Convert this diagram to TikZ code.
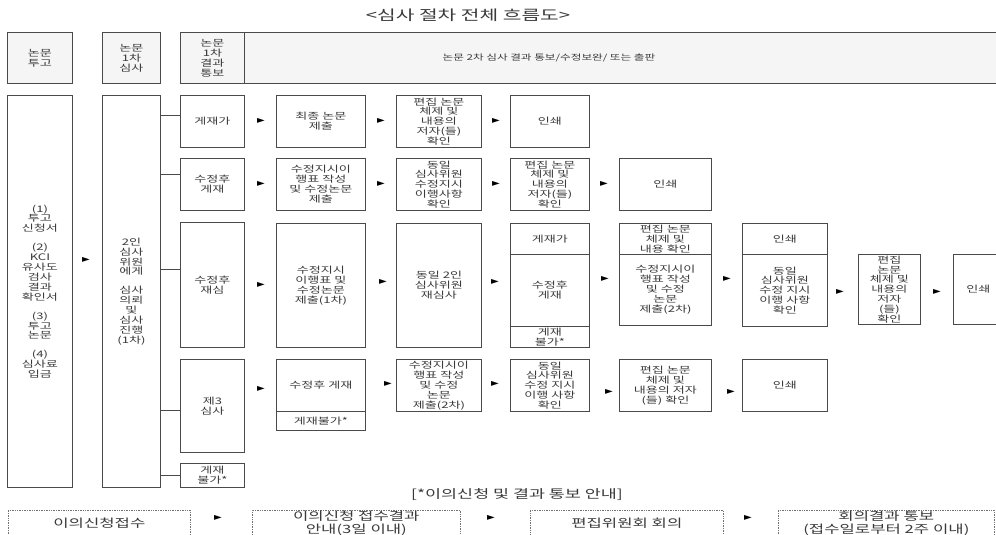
\documentclass[tikz,border=0pt]{standalone}
\usepackage{fontspec}
\setmainfont{Noto Sans CJK KR}[FakeStretch=1.45]
\newfontfamily\symf{DejaVu Sans}
\usetikzlibrary{calc}
\definecolor{txt}{HTML}{3A3A3A}
\definecolor{ln}{HTML}{4A4A4A}
\definecolor{hdr}{HTML}{F5F5F5}
\tikzset{
 bx/.style={draw=ln, line width=0.9pt, fill=white, inner sep=0pt, align=center, text=txt,
   font=\fontsize{9}{9.9}\selectfont, anchor=north west},
 hd/.style={bx, fill=hdr},
 dbx/.style={draw=black!55, densely dotted, line width=0.7pt, inner sep=0pt, align=center, text=txt,
   font=\fontsize{11.5}{12.5}\selectfont, anchor=north west},
 tri/.style={text=black, font=\symf\fontsize{10}{10}\selectfont, inner sep=0pt},
 link/.style={draw=ln, line width=0.8pt},
}
\newcommand\mkbox[7][bx]{\node[#1, minimum width={(#5-#3)*1pt}, minimum height={(#6-#4)*1pt}] (#2) at (#3,#4) {#7};}
\begin{document}
\begin{tikzpicture}[x=1pt,y=-1pt]
\clip (0,0) rectangle (996,535);
\fill[white] (0,0) rectangle (996,535);
% title
\node[text=txt, font=\fontsize{14}{16}\selectfont] (title) at (468,15) {<심사 절차 전체 흐름도>};
% header
\mkbox[hd]{h1}{7}{32}{72}{83}{논문\\투고}
\mkbox[hd]{h2}{102}{32}{160}{83}{논문\\1차\\심사}
\mkbox[hd]{h3}{180}{32}{244}{83}{논문\\1차\\결과\\통보}
\mkbox[hd]{h4}{244}{32}{1000}{83}{}
\node[text=txt, font=\fontsize{8}{10}\selectfont] (h4t) at (549,57.5) {논문 2차 심사 결과 통보/수정보완/ 또는 출판};
% left columns
\mkbox{L}{7}{95}{72}{487}{(1)\\투고\\신청서\\[9pt](2)\\KCI\\유사도\\검사\\결과\\확인서\\[9pt](3)\\투고\\논문\\[9pt](4)\\심사료\\입금}
\mkbox{M}{102}{95}{160}{487}{2인\\심사\\위원\\에게\\[9pt]심사\\의뢰\\및\\심사\\진행\\(1차)}
\node[tri] (aLM) at (86,260) {►};
% column 3
\mkbox{c3a}{180}{95}{244}{147}{게재가}
\mkbox{c3b}{180}{158}{244}{210}{수정후\\게재}
\mkbox{c3c}{180}{222}{244}{347}{수정후\\재심}
\mkbox{c3d}{180}{359}{244}{452}{제3\\심사}
\mkbox{c3e}{180}{463}{244}{487}{게재\\불가*}
\draw[link] (M.east |- 0,115) -- (c3a.west |- 0,115);
\draw[link] (M.east |- 0,174) -- (c3b.west |- 0,174);
\draw[link] (M.east |- 0,269) -- (c3c.west |- 0,269);
\draw[link] (M.east |- 0,410) -- (c3d.west |- 0,410);
\draw[link] (M.east |- 0,475) -- (c3e.west |- 0,475);
% column 4
\mkbox{c4a}{276}{95}{365}{147}{최종 논문\\제출}
\mkbox{c4b}{276}{158}{365}{210}{수정지시이\\행표 작성\\및 수정논문\\제출}
\mkbox{c4c}{276}{223}{365}{347}{수정지시\\이행표 및\\수정논문\\제출(1차)}
\mkbox{c4d}{276}{359}{365}{411}{수정후 게재}
\mkbox{c4e}{276}{411}{365}{430}{게재불가*}
% column 5
\mkbox{c5a}{396}{95}{481}{147}{편집 논문\\체제 및\\내용의\\저자(들)\\확인}
\mkbox{c5b}{396}{158}{481}{210}{동일\\심사위원\\수정지시\\이행사항\\확인}
\mkbox{c5c}{396}{223}{481}{347}{동일 2인\\심사위원\\재심사}
\mkbox{c5d}{396}{359}{481}{411}{수정지시이\\행표 작성\\및 수정\\논문\\제출(2차)}
% column 6
\mkbox{c6a}{510}{95}{589}{147}{인쇄}
\mkbox{c6b}{510}{158}{589}{210}{편집 논문\\체제 및\\내용의\\저자(들)\\확인}
\mkbox{c6ca}{510}{223}{589}{254}{게재가}
\mkbox{c6cb}{510}{254}{589}{326}{수정후\\게재}
\mkbox{c6cc}{510}{326}{589}{347}{게재\\불가*}
\mkbox{c6d}{510}{359}{589}{411}{동일\\심사위원\\수정 지시\\이행 사항\\확인}
% column 7
\mkbox{c7b}{619}{158}{711}{210}{인쇄}
\mkbox{c7ca}{619}{223}{711}{254}{편집 논문\\체제 및\\내용 확인}
\mkbox{c7cb}{619}{254}{711}{325}{수정지시이\\행표 작성\\및 수정\\논문\\제출(2차)}
\mkbox{c7d}{619}{359}{711}{411}{편집 논문\\체제 및\\내용의 저자\\(들) 확인}
% column 8
\mkbox{c8ca}{742}{223}{827}{254}{인쇄}
\mkbox{c8cb}{742}{254}{827}{326}{동일\\심사위원\\수정 지시\\이행 사항\\확인}
\mkbox{c8d}{742}{359}{827}{411}{인쇄}
% column 9, 10
\mkbox{c9c}{858}{254}{920}{324}{편집\\논문\\체제 및\\내용의\\저자\\(들)\\확인}
\mkbox{c10c}{953}{254}{1003}{324}{인쇄}
% arrows row 1
\node[tri] (a1a) at (261,121) {►};
\node[tri] (a1b) at (381,121) {►};
\node[tri] (a1c) at (496,121) {►};
% arrows row 2
\node[tri] (a2a) at (261,184) {►};
\node[tri] (a2b) at (381,184) {►};
\node[tri] (a2c) at (496,184) {►};
\node[tri] (a2d) at (604,184) {►};
% arrows row 3
\node[tri] (a3a) at (261,285) {►};
\node[tri] (a3b) at (383,282) {►};
\node[tri] (a3c) at (495,282) {►};
\node[tri] (a3d) at (605,279) {►};
\node[tri] (a3e) at (727,279) {►};
\node[tri] (a3f) at (840,292) {►};
\node[tri] (a3g) at (937,292) {►};
% arrows row 4
\node[tri] (a4a) at (261,389) {►};
\node[tri] (a4b) at (388,384) {►};
\node[tri] (a4c) at (495,384) {►};
\node[tri] (a4d) at (609,392) {►};
\node[tri] (a4e) at (731,392) {►};
% footer
\node[text=txt, font=\fontsize{12}{14}\selectfont] (ftitle) at (517,495) {[*이의신청 및 결과 통보 안내]};
\mkbox[dbx]{f1}{8}{510}{190}{536}{이의신청접수}
\mkbox[dbx]{f2}{252}{510}{460}{536}{이의신청 접수결과\\안내(3일 이내)}
\mkbox[dbx]{f3}{530}{510}{723}{536}{편집위원회 회의}
\mkbox[dbx]{f4}{778}{510}{994}{536}{회의결과 통보\\(접수일로부터 2주 이내)}
\node[tri] (fa1) at (218,518) {►};
\node[tri] (fa2) at (491,518) {►};
\node[tri] (fa3) at (748,518) {►};
\end{tikzpicture}
\end{document}
